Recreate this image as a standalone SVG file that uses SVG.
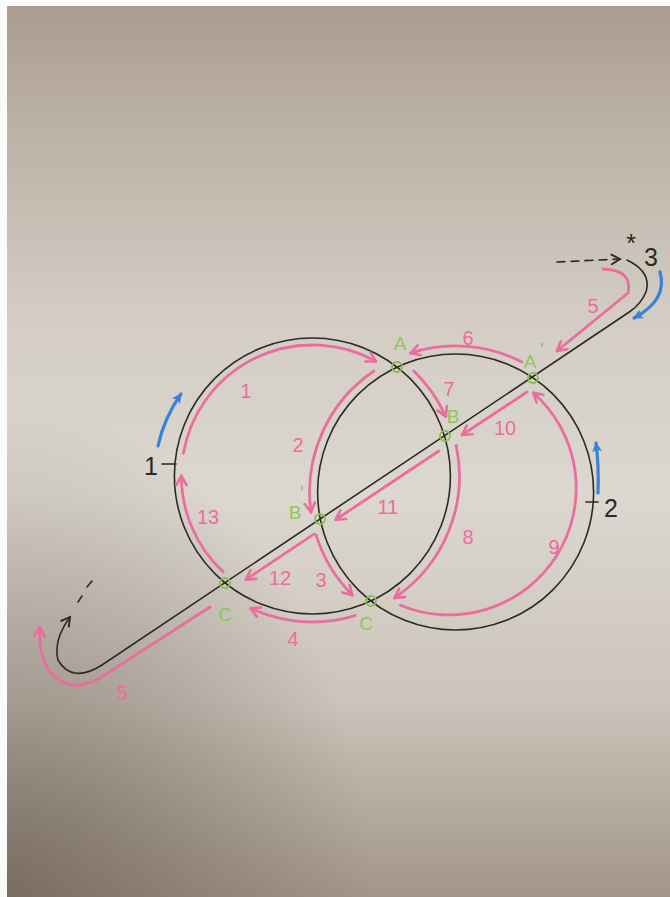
<svg xmlns="http://www.w3.org/2000/svg" width="670" height="897" viewBox="0 0 670 897">
<defs>
<linearGradient id="paper" x1="0" y1="0" x2="0" y2="1">
<stop offset="0" stop-color="#aa9d8f"/>
<stop offset="0.15" stop-color="#bdb3a7"/>
<stop offset="0.35" stop-color="#d3cdc4"/>
<stop offset="0.55" stop-color="#dcd7cf"/>
<stop offset="0.78" stop-color="#cbc4ba"/>
<stop offset="1" stop-color="#a29588"/>
</linearGradient>
<radialGradient id="shade" cx="0" cy="1" r="0.55">
<stop offset="0" stop-color="#5e5248" stop-opacity="0.6"/>
<stop offset="1" stop-color="#5e5248" stop-opacity="0"/>
</radialGradient>
<marker id="ap" viewBox="0 0 10 10" refX="8.5" refY="5" markerWidth="13" markerHeight="13" markerUnits="userSpaceOnUse" orient="auto">
<path d="M1.5,1 L8.5,5 L1.5,9" fill="none" stroke="#ea6d9f" stroke-width="2" stroke-linecap="round" stroke-linejoin="round"/>
</marker>
<marker id="ak" viewBox="0 0 10 10" refX="8.5" refY="5" markerWidth="12" markerHeight="12" markerUnits="userSpaceOnUse" orient="auto">
<path d="M1.5,1 L8.5,5 L1.5,9" fill="none" stroke="#2b2a25" stroke-width="1.6" stroke-linecap="round"/>
</marker>
<marker id="ab" viewBox="0 0 10 10" refX="8" refY="5" markerWidth="11" markerHeight="11" markerUnits="userSpaceOnUse" orient="auto">
<path d="M0,0.5 L9,5 L0,9.5 L2,5 Z" fill="#3a82d6"/>
</marker>
<style>
.blk{fill:none;stroke:#2b2a25;stroke-width:1.6;stroke-linecap:round}
.pk{fill:none;stroke:#ea6d9f;stroke-width:2.8;stroke-linecap:round;marker-end:url(#ap)}
.bl{fill:none;stroke:#3a82d6;stroke-width:3.2;stroke-linecap:round;marker-end:url(#ab)}
.nd{fill:none;stroke:#86bf4e;stroke-width:1.8}
.gt{font-family:"Liberation Sans","DejaVu Sans",sans-serif;font-size:19px;fill:#8cc85a;text-anchor:middle}
.pt{font-family:"Liberation Sans","DejaVu Sans",sans-serif;font-size:20px;fill:#ea6d9f;text-anchor:middle}
.kt{font-family:"Liberation Sans","DejaVu Sans",sans-serif;font-size:25px;fill:#2b2a25;text-anchor:middle}
</style>
</defs>
<rect x="0" y="0" width="670" height="897" fill="#fbfbfb"/>
<rect x="7" y="6" width="663" height="891" fill="url(#paper)"/>
<rect x="7" y="6" width="663" height="891" fill="url(#shade)"/>

<g id="connectors">
<circle class="blk" cx="312.4" cy="476" r="138"/>
<circle class="blk" cx="455.6" cy="492" r="138"/>
<path class="blk" d="M627,260 Q652,272 646,292 Q641,304 630,311.5 L102,665 Q72,684 58,660 Q53,640 70,617" marker-end="url(#ak)"/>
<path class="blk" d="M78,602 L82,596 M87,587 L92,581"/>
<path class="blk" d="M557,262 L620,259" stroke-dasharray="8 6" marker-end="url(#ak)"/>
<path class="blk" d="M162,464 L176,464" stroke-width="2.6"/>
<path class="blk" d="M586,502 L598,502" stroke-width="2.6"/>
<path class="pk" d="M183.4,453.3 A131,131 0 0 1 375.9,361.4"/>
<path class="pk" d="M374,371 A146,146 0 0 0 311,512.3"/>
<path class="pk" d="M413.8,371 A146,146 0 0 1 445.8,416.6"/>
<path class="pk" d="M521.9,361.9 A146,146 0 0 0 410.5,353.1"/>
<path class="pk" d="M527,392 L462,435"/>
<path class="pk" d="M438.8,451 L335.7,519.7"/>
<path class="pk" d="M314,534.2 L245.8,579.6"/>
<path class="pk" d="M316,534.7 A146,146 0 0 0 352.4,595.2"/>
<path class="pk" d="M355.1,615.6 A146,146 0 0 1 250.7,608.3"/>
<path class="pk" d="M456.2,445.4 A147,147 0 0 1 394.6,597.9"/>
<path class="pk" d="M400.4,605.2 A127,127 0 0 0 533.2,392.7"/>
<path class="pk" d="M223.1,571.8 A131,131 0 0 1 181.4,476"/>
<path class="pk" d="M603,269 Q633,270 628,293 L557,351"/>
<path class="pk" d="M210,607 L100,678 Q70,695 50,672 Q38,655 40,627"/>
<path class="bl" d="M158,446 Q164,418 181,394"/>
<path class="bl" d="M598,493 Q599,466 596,443"/>
<path class="bl" d="M660,272 Q668,300 634,318"/>
</g>

<g id="node-A"><circle class="nd" cx="397" cy="367" r="5"/><text class="gt" x="400" y="350">A</text></g>
<g id="node-A2"><circle class="nd" cx="533" cy="378" r="5"/><text class="gt" x="530" y="368">A</text><text class="gt" x="542" y="356" font-size="15">'</text></g>
<g id="node-B"><circle class="nd" cx="445" cy="436" r="5"/><text class="gt" x="453" y="423">B</text></g>
<g id="node-B2"><circle class="nd" cx="320" cy="519" r="5"/><text class="gt" x="295" y="519">B</text><text class="gt" x="302" y="499" font-size="15">'</text></g>
<g id="node-C2"><circle class="nd" cx="225" cy="583" r="5"/><text class="gt" x="225" y="621">C</text><text class="gt" x="227" y="599" font-size="14">'</text></g>
<g id="node-C"><circle class="nd" cx="371" cy="601" r="5"/><text class="gt" x="366" y="630">C</text></g>

<g id="labels">
<text class="pt" x="246" y="398">1</text>
<text class="pt" x="298" y="452">2</text>
<text class="pt" x="321" y="587">3</text>
<text class="pt" x="293" y="646">4</text>
<text class="pt" x="593" y="313">5</text>
<text class="pt" x="122" y="700">5</text>
<text class="pt" x="468" y="345">6</text>
<text class="pt" x="449" y="396">7</text>
<text class="pt" x="468" y="544">8</text>
<text class="pt" x="554" y="554">9</text>
<text class="pt" x="505" y="435">10</text>
<text class="pt" x="388" y="514">11</text>
<text class="pt" x="280" y="585">12</text>
<text class="pt" x="208" y="524">13</text>
<text class="kt" x="151" y="475">1</text>
<text class="kt" x="611" y="517">2</text>
<text class="kt" x="651" y="266">3</text>
<text class="kt" x="631" y="252">*</text>
</g>
</svg>
